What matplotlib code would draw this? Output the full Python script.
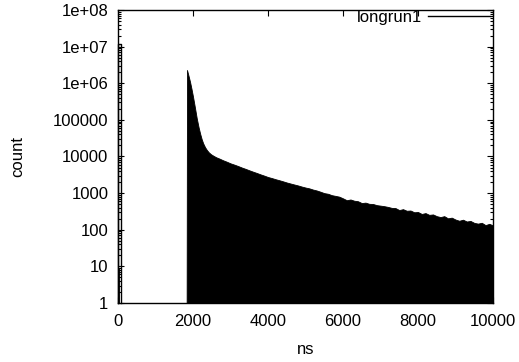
"""
longrun1 time histogram (gnuplot-style log plot)
"""
import matplotlib
matplotlib.use("Agg")
import matplotlib.pyplot as plt
from matplotlib.ticker import FixedLocator, FixedFormatter, LogLocator, NullFormatter

plt.rcParams['font.family'] = ['Liberation Sans', 'DejaVu Sans']

# spike at the very start of the run
start_ns = [0, 0, 0, 70, 70]
start_counts = [1, 9, 1.15e7, 1.15e7, 1]
low_ns = [0, 25]
low_counts = [9, 9]

# main peak + decay tail
peak_ns = [1830, 1840, 1880, 1920, 1960, 2000, 2050, 2100, 2150, 2190, 2230,
           2270, 2320, 2370, 2420, 2480, 2550, 2620, 2700]
peak_counts = [1, 2.3e6, 1.6e6, 1.1e6, 7.0e5, 4.3e5, 2.2e5, 1.1e5, 6.2e4, 4.2e4,
               3.0e4, 2.3e4, 1.8e4, 1.5e4, 1.3e4, 1.15e4, 1.04e4, 9500, 8800]

tail_ns = list(range(2800, 10001, 100))
tail_counts = [
    7900, 7200, 6500, 6000, 5500, 5000, 4600, 4200, 3850, 3550,
    3250, 3000, 2750, 2580, 2400, 2250, 2100, 1950, 1830, 1720,
    1620, 1510, 1420, 1350, 1250, 1180, 1090, 1000, 960, 880,
    840, 800, 720, 640, 670, 620, 600, 535, 550, 510,
    505, 470, 455, 440, 420, 395, 390, 345, 365, 330,
    335, 300, 305, 270, 285, 255, 262, 235, 222, 235,
    205, 214, 190, 176, 188, 168, 174, 154, 147, 155,
    134, 145, 132,
]

y_ticks = [1, 10, 100, 1000, 10000, 100000, 1e6, 1e7, 1e8]
y_labels = ['1', '10', '100', '1000', '10000', '100000', '1e+06', '1e+07', '1e+08']
x_ticks = [0, 2000, 4000, 6000, 8000, 10000]

fig = plt.figure(figsize=(5.19, 3.62), dpi=100)
ax = fig.add_axes([0.2274, 0.163, 0.9499 - 0.2274, 0.9724 - 0.163])

hist_ns = peak_ns + tail_ns
hist_counts = peak_counts + tail_counts
ax.fill_between(hist_ns, 1, hist_counts, color='black', lw=0.6, edgecolor='black')
ax.fill_between(low_ns, 1, low_counts, color='black', lw=0.6, clip_on=False)
ax.plot(start_ns, start_counts, color='black', lw=1, clip_on=False)
# legend entry only
ax.plot([], [], color='black', lw=1, label='longrun1')

ax.set_yscale('log')
ax.set_xlim(0, 10000)
ax.set_ylim(1, 1e8)

ax.yaxis.set_major_locator(FixedLocator(y_ticks))
ax.yaxis.set_major_formatter(FixedFormatter(y_labels))
ax.yaxis.set_minor_locator(LogLocator(base=10, subs=range(2, 10), numticks=20))
ax.yaxis.set_minor_formatter(NullFormatter())
ax.set_xticks(x_ticks)
ax.set_xticklabels([str(t) for t in x_ticks])

ax.tick_params(which='both', direction='in', top=True, right=True,
               labelsize=12, width=0.8)
ax.tick_params(which='major', length=4.5)
ax.tick_params(axis='x', which='major', pad=8)
ax.tick_params(axis='y', which='major', pad=7)
ax.tick_params(which='minor', length=2.5)
for s in ax.spines.values():
    s.set_linewidth(1)

ax.set_xlabel('ns', fontsize=12, labelpad=9)
ax.set_ylabel('count', fontsize=12, labelpad=20)

ax.legend(loc='upper right', bbox_to_anchor=(1.0, 1.012), frameon=False,
          markerfirst=False, fontsize=12, handlelength=3.7, handletextpad=0.35,
          borderaxespad=0.1, borderpad=0.1)

fig.savefig('out.png', dpi=100)
